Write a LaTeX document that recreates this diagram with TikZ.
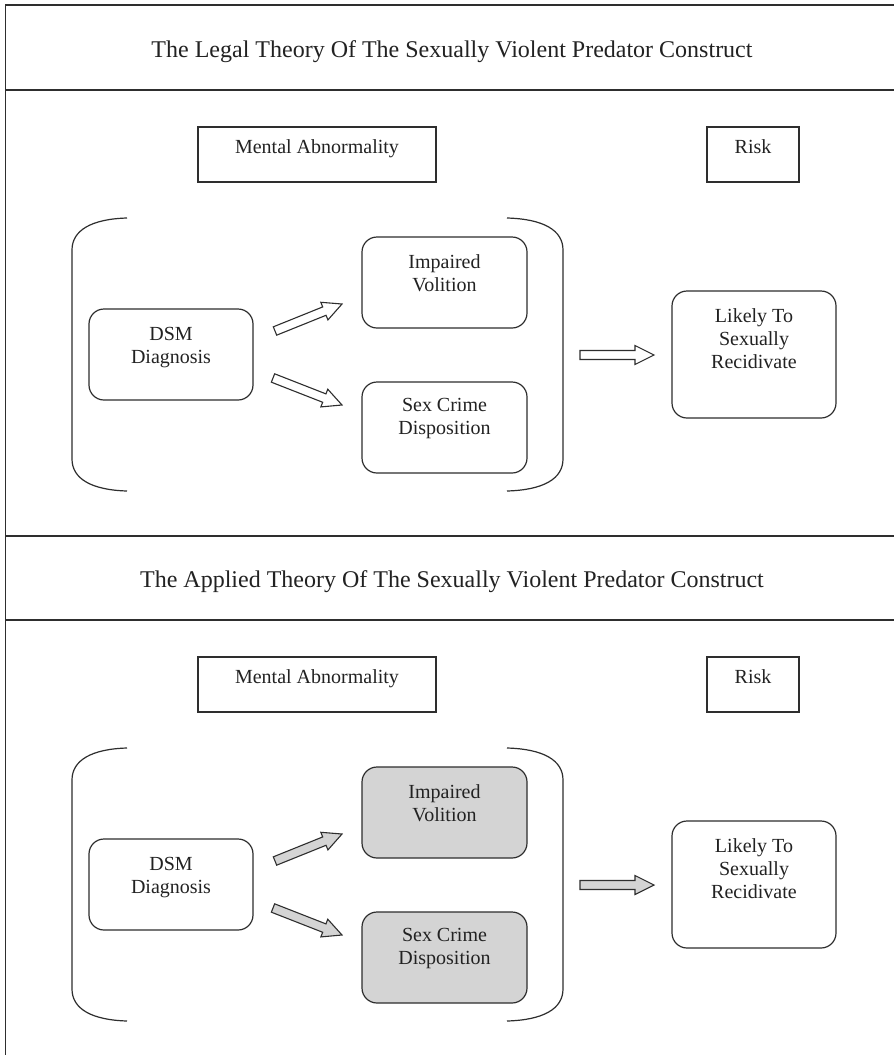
\documentclass[tikz,border=0pt]{standalone}
\usepackage{fontspec}
\setmainfont{Liberation Serif}
\usetikzlibrary{calc}
\definecolor{lc}{HTML}{2E2E2E}
\definecolor{tc}{HTML}{222222}
\definecolor{gfill}{HTML}{D4D4D4}
\tikzset{
  ln/.style={draw=lc, line width=1.2pt},
  frameln/.style={draw=lc, line width=1.5pt},
  rbox/.style={ln, rounded corners=15pt, inner sep=0pt},
  sbox/.style={ln, inner sep=0pt},
  txt/.style={font=\fontsize{20}{23}\selectfont, align=center, inner sep=0pt, text=tc},
  ttl/.style={font=\fontsize{24}{28}\selectfont, inner sep=0pt, text=tc},
  arr/.style={ln, line width=1.1pt, line join=miter},
}
\newcommand\barrow[3]{% #1 style, #2 tail, #3 tip
  \coordinate (hb) at ($(#3)!19pt!(#2)$);
  \draw[arr,#1] ($(#2)!4.5pt!90:(#3)$) -- ($(hb)!4.5pt!90:(#3)$) -- ($(hb)!9.5pt!90:(#3)$)
    -- (#3) -- ($(hb)!9.5pt!-90:(#3)$) -- ($(hb)!4.5pt!-90:(#3)$) -- ($(#2)!4.5pt!-90:(#3)$) -- cycle;
}
\newcommand\panel[4]{% #1 prefix, #2 y offset, #3 fill, #4 title word
  \node[ttl, anchor=base] (#1title) at (452,{57+#2}) {The #4 Theory Of The Sexually Violent Predator Construct};
  \node[sbox, minimum width=238pt, minimum height=55pt] (#1ma) at (317,{154.5+#2}) {};
  \node[txt, anchor=north] (#1mat) at ([yshift=-13.5pt]#1ma.north) {Mental Abnormality};
  \node[sbox, minimum width=92pt, minimum height=55pt] (#1risk) at (753,{154.5+#2}) {};
  \node[txt, anchor=north] (#1riskt) at ([yshift=-13.5pt]#1risk.north) {Risk};
  \node[rbox, minimum width=164pt, minimum height=91pt] (#1dsm) at (171,{354.5+#2}) {};
  \node[txt, anchor=north] (#1dsmt) at ([yshift=-19pt]#1dsm.north) {DSM\\Diagnosis};
  \node[rbox, fill=#3, minimum width=165pt, minimum height=91pt] (#1iv) at (444.5,{282.5+#2}) {};
  \node[txt, anchor=north] (#1ivt) at ([yshift=-18pt]#1iv.north) {Impaired\\Volition};
  \node[rbox, fill=#3, minimum width=165pt, minimum height=91pt] (#1sc) at (444.5,{427.5+#2}) {};
  \node[txt, anchor=north] (#1sct) at ([yshift=-17pt]#1sc.north) {Sex Crime\\Disposition};
  \node[rbox, minimum width=164pt, minimum height=127pt] (#1lr) at (754,{354.5+#2}) {};
  \node[txt, anchor=north] (#1lrt) at ([yshift=-18pt]#1lr.north) {Likely To\\Sexually\\Recidivate};
  % brackets
  \draw[ln] (127,{218+#2}) .. controls (92,{219+#2}) and (72,{230+#2}) .. (72,{250+#2})
     -- (72,{459+#2}) .. controls (72,{479+#2}) and (92,{490+#2}) .. (127,{491+#2});
  \draw[ln] (507,{218+#2}) .. controls (543,{219+#2}) and (563,{230+#2}) .. (563,{250+#2})
     -- (563,{459+#2}) .. controls (563,{479+#2}) and (543,{490+#2}) .. (507,{491+#2});
  % arrows
  \coordinate (#1a1s) at (275,{331+#2});
  \coordinate (#1a1e) at (342,{304+#2});
  \coordinate (#1a2s) at (273,{378+#2});
  \coordinate (#1a2e) at (342,{405+#2});
  \coordinate (#1a3s) at (580,{355+#2});
  \coordinate (#1a3e) at (654,{355+#2});
  \barrow{fill=#3}{#1a1s}{#1a1e}
  \barrow{fill=#3}{#1a2s}{#1a2e}
  \barrow{fill=#3}{#1a3s}{#1a3e}
}
\begin{document}
\begin{tikzpicture}[x=1pt,y=-1pt]
  \useasboundingbox[fill=white] (0,0) rectangle (894,1055);
  \coordinate (fTL) at (5.5,5);
  \coordinate (fTR) at (894,5);
  \coordinate (fBL) at (5.5,1055);
  \draw[frameln] (fTR) -- (fTL) -- (fBL);
  \coordinate (d1l) at (5.5,90);  \coordinate (d1r) at (894,90);
  \coordinate (d2l) at (5.5,536); \coordinate (d2r) at (894,536);
  \coordinate (d3l) at (5.5,620); \coordinate (d3r) at (894,620);
  \draw[frameln] (d1l) -- (d1r);
  \draw[frameln] (d2l) -- (d2r);
  \draw[frameln] (d3l) -- (d3r);
  \panel{t}{0}{white}{Legal}
  \panel{b}{530}{gfill}{Applied}
\end{tikzpicture}
\end{document}
